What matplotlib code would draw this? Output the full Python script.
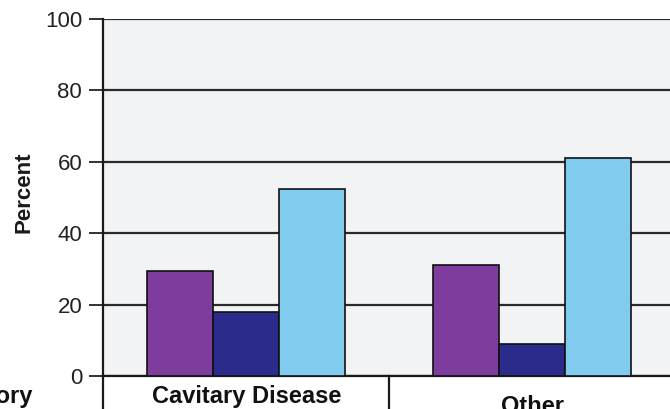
import matplotlib
matplotlib.use("Agg")
from matplotlib import pyplot as plt
import numpy as np

plt.rcParams['font.family'] = ['Liberation Sans', 'DejaVu Sans']

categories = ['Cavitary Disease', 'Other']
series_a = [29.5, 31]     # purple
series_b = [18, 9]        # navy
series_c = [52.5, 61]     # light blue
yticks = [0, 20, 40, 60, 80, 100]

colors = ['#7e3d9d', '#2b2b8c', '#80cbee']

W, H = 670, 409
fig = plt.figure(figsize=(W / 100, H / 100), dpi=100)
fig.patch.set_facecolor('white')
ax = fig.add_axes([103/W, 33/H, 572/W, 357/H])
ax.set_facecolor('#f1f3f5')

x = np.arange(len(categories)) + 0.5
w = 0.23
for off, vals, c in zip([-w, 0, w], [series_a, series_b, series_c], colors):
    ax.bar(x + off, vals, width=w, color=c, edgecolor='#111111', linewidth=1.2, zorder=3)

ax.set_xlim(0, 2)
ax.set_ylim(0, 100)
ax.set_yticks(yticks)
ax.set_yticklabels([str(t) for t in yticks], fontsize=16, color='#222222')
ax.tick_params(axis='y', length=10, width=1.3, color='#222222', pad=5)
ax.set_xticks([])
ax.yaxis.grid(True, color='#2a2a2a', linewidth=1.6, zorder=1)
ax.set_axisbelow(True)

for s in ['top', 'right']:
    ax.spines[s].set_visible(False)
for s in ['left', 'bottom']:
    ax.spines[s].set_linewidth(1.6)
    ax.spines[s].set_color('#1a1a1a')

# table-style lines below the axis
ax.plot([0, 0], [0, -0.1], transform=ax.get_xaxis_transform(), color='#1a1a1a', lw=1.6, clip_on=False)
ax.plot([1, 1], [0, -0.1], transform=ax.get_xaxis_transform(), color='#1a1a1a', lw=1.6, clip_on=False)

fig.text(24/W, 1 - 192/H, 'Percent', fontsize=16, fontweight='bold', rotation=90,
         ha='center', va='center', color='#1a1a1a')

fig.text(247/W, 1 - 403/H, categories[0], fontsize=17, fontweight='bold', ha='center', va='baseline', color='#111111')
fig.text(532/W, 1 - 413/H, categories[1], fontsize=17, fontweight='bold', ha='center', va='baseline', color='#111111')
fig.text(32/W, 1 - 403/H, 'Category', fontsize=17, fontweight='bold', ha='right', va='baseline', color='#111111')

fig.savefig('out.png', dpi=100, facecolor='white')
